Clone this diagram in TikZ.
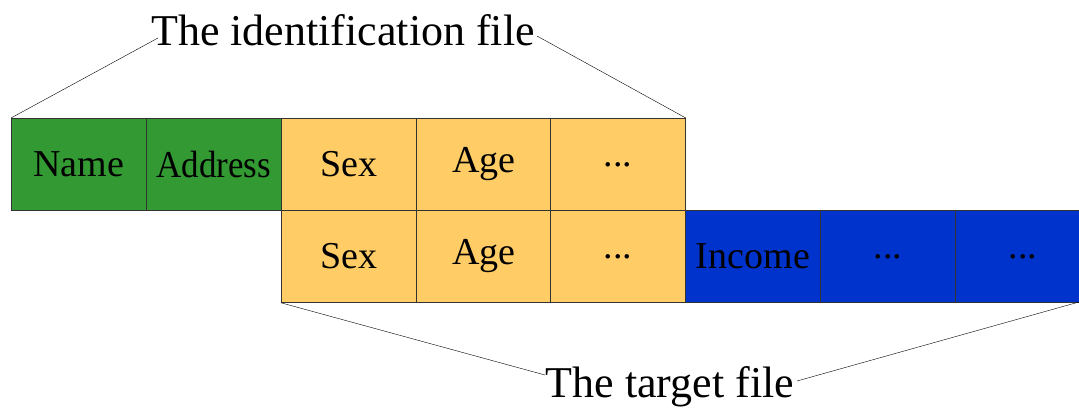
\documentclass[tikz,border=0pt]{standalone}
\usepackage{fontspec}
\setmainfont{Liberation Serif}
\definecolor{cgreen}{HTML}{339933}
\definecolor{cyellow}{HTML}{FFCC66}
\definecolor{cblue}{HTML}{0033CC}
\tikzset{
  cell/.style={draw=black!80, line width=0.8pt, minimum width=135pt, minimum height=92pt,
    inner sep=0pt, anchor=north west, font=\fontsize{38}{40}\selectfont},
  gcell/.style={cell, fill=cgreen},
  ycell/.style={cell, fill=cyellow},
  bcell/.style={cell, fill=cblue},
  ttl/.style={font=\fontsize{44}{46}\selectfont, anchor=base, inner sep=0pt},
  link/.style={draw=black, line width=0.4pt}
}
\begin{document}
\begin{tikzpicture}[x=1pt,y=-1pt]
\useasboundingbox (0,0) rectangle (1079,410);
\clip (0,0) rectangle (1079,410);
% row 1
\node[gcell] (name) at (11,118) {Name};
\node[gcell] (addr) at (146,118) {\scalebox{0.92}[1]{Address}};
\node[ycell] (sex1) at (281,118) {Sex};
\node[ycell] (age1) at (416,118) {Age};
\node[ycell] (dot1) at (550,118) {...};
% row 2
\node[ycell] (sex2) at (281,210) {Sex};
\node[ycell] (age2) at (416,210) {Age};
\node[ycell] (dot2) at (550,210) {...};
\node[bcell] (inc) at (685,210) {Income};
\node[bcell] (dot3) at (820,210) {...};
\node[bcell] (dot4) at (955,210) {...};
% titles
\node[ttl] (idt) at (343,45) {The identification file};
\node[ttl] (tgt) at (670,397) {The target file};
\coordinate (idl) at (158,38);
\coordinate (idr) at (537,36);
\coordinate (tgl) at (545,375);
\coordinate (tgr) at (797,381);
\coordinate (edge) at (1079,302);
\draw[link] (name.north west) -- (idl);
\draw[link] (dot1.north east) -- (idr);
\draw[link] (sex2.south west) -- (tgl);
\draw[link] (edge) -- (tgr);
\end{tikzpicture}
\end{document}
